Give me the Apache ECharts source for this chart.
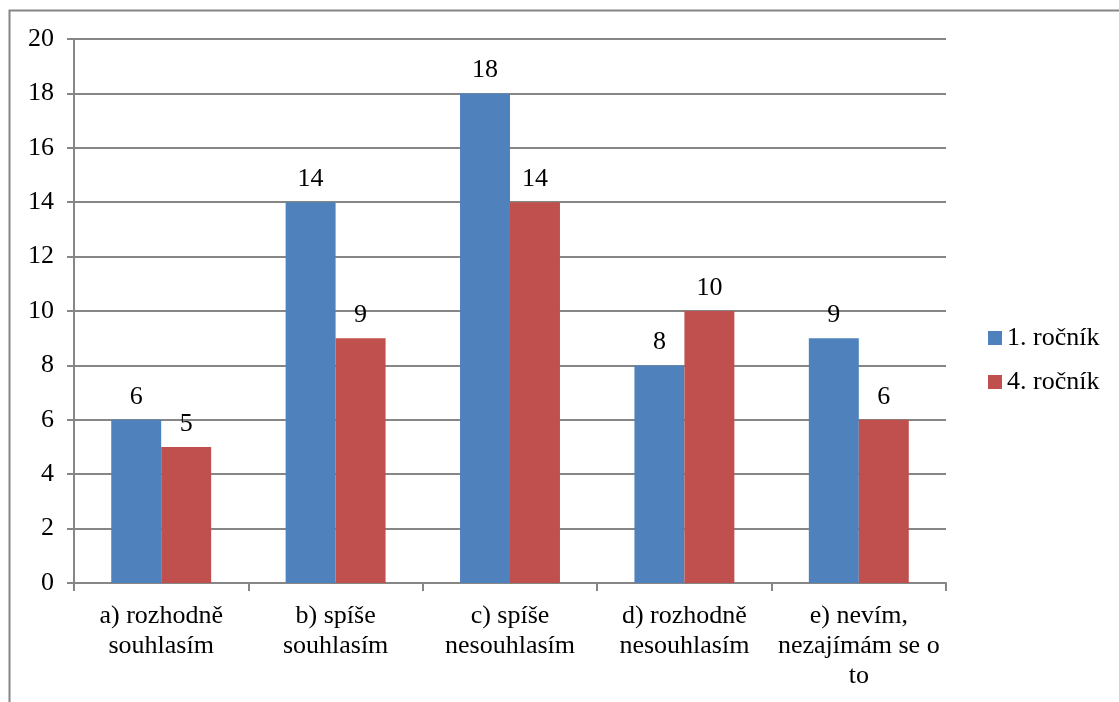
<!DOCTYPE html>
<html>
<head>
<meta charset="utf-8">
<script src="https://cdn.jsdelivr.net/npm/echarts@6/dist/echarts.min.js"></script>
<style>
  html, body { margin: 0; padding: 0; background: #ffffff; }
  #chart { width: 1119px; height: 702px; }
</style>
</head>
<body>
<div id="chart"></div>
<script>
// Survey answers by year group
const categories = [
  'a) rozhodně\nsouhlasím',
  'b) spíše\nsouhlasím',
  'c) spíše\nnesouhlasím',
  'd) rozhodně\nnesouhlasím',
  'e) nevím,\nnezajímám se o\nto'
];
const seriesNames = ['1. ročník', '4. ročník'];
const firstYear = [6, 14, 18, 8, 9];
const fourthYear = [5, 9, 14, 10, 6];
const yTicks = { min: 0, max: 20, interval: 2 };

const FONT = 'Liberation Serif';
const FS = 26;
const GRAY = '#868686';

const chart = echarts.init(document.getElementById('chart'), null, { renderer: 'canvas' });

const labelStyle = {
  show: true,
  position: 'top',
  distance: 10,
  fontFamily: FONT,
  fontSize: FS,
  color: '#000'
};

chart.setOption({
  animation: false,
  backgroundColor: '#ffffff',
  textStyle: { fontFamily: FONT, fontSize: FS, color: '#000' },
  graphic: [{
    type: 'polyline',
    shape: { points: [[9.5, 702], [9.5, 10.5], [1119, 10.5]] },
    style: { stroke: GRAY, lineWidth: 2, fill: null },
    silent: true
  }],
  grid: { left: 74, right: 173, top: 39, bottom: 119, containLabel: false },
  legend: {
    orient: 'vertical',
    left: 988,
    top: 325,
    padding: 0,
    itemWidth: 14,
    itemHeight: 14,
    itemGap: 18,
    icon: 'rect',
    data: seriesNames,
    textStyle: { fontFamily: FONT, fontSize: FS, color: '#000', lineHeight: 26 }
  },
  xAxis: {
    type: 'category',
    data: categories,
    axisLine: { show: true, lineStyle: { color: GRAY, width: 2 } },
    axisTick: { show: true, length: 8, lineStyle: { color: GRAY, width: 2 } },
    axisLabel: {
      interval: 0,
      margin: 18,
      fontFamily: FONT,
      fontSize: FS,
      lineHeight: 30,
      color: '#000'
    }
  },
  yAxis: {
    type: 'value',
    min: yTicks.min,
    max: yTicks.max,
    interval: yTicks.interval,
    axisLine: { show: true, lineStyle: { color: GRAY, width: 2 } },
    axisTick: { show: true, length: 7, lineStyle: { color: GRAY, width: 2 } },
    splitLine: { show: true, lineStyle: { color: GRAY, width: 2 } },
    axisLabel: {
      margin: 20,
      fontFamily: FONT,
      fontSize: FS,
      color: '#000'
    }
  },
  series: [
    {
      name: seriesNames[0],
      type: 'bar',
      data: firstYear,
      barGap: '0%',
      barCategoryGap: '42.7%',
      itemStyle: { color: '#4F81BD' },
      label: labelStyle
    },
    {
      name: seriesNames[1],
      type: 'bar',
      data: fourthYear,
      barGap: '0%',
      barCategoryGap: '42.7%',
      itemStyle: { color: '#C0504D' },
      label: labelStyle
    }
  ]
});
</script>
</body>
</html>
